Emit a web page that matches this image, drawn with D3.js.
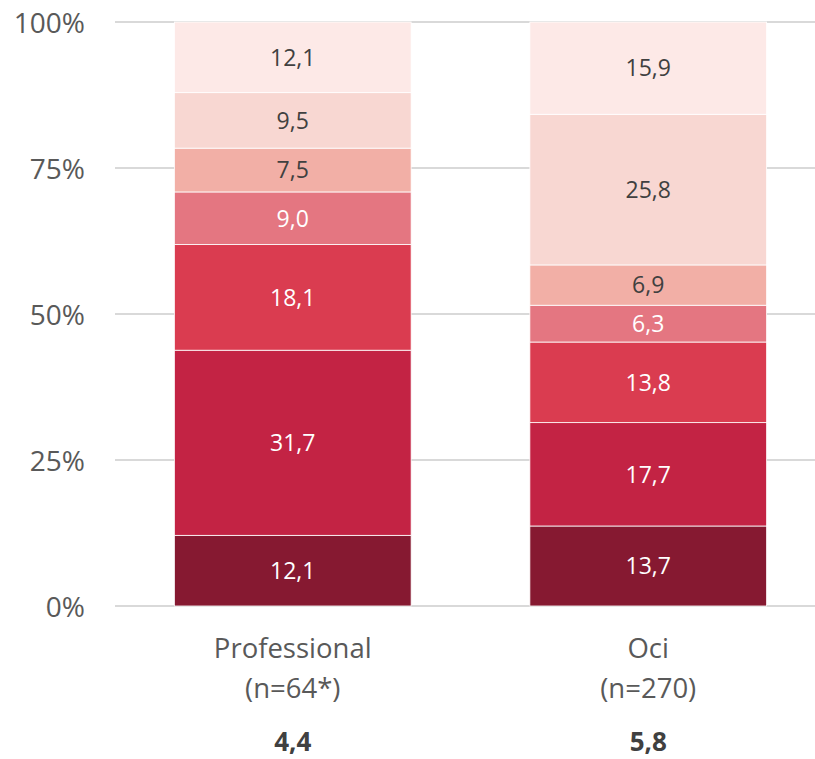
<!DOCTYPE html>
<html><head><meta charset="utf-8">
<script src="https://cdn.jsdelivr.net/npm/d3@7"></script>
<style>body{margin:0;background:#fff}svg{display:block}text{font-family:"Open Sans",sans-serif}</style>
</head><body>
<svg id="c" width="815" height="759"></svg>
<script>
const categories = ["Professional", "Oci"];
const sampleLabels = ["(n=64*)", "(n=270)"];
const means = ["4,4", "5,8"];
const segments = ["s1","s2","s3","s4","s5","s6","s7"]; // bottom to top
const professional = [12.1, 31.7, 18.1, 9.0, 7.5, 9.5, 12.1];
const oci = [13.7, 17.7, 13.8, 6.3, 6.9, 25.8, 15.9];
const colors = ["#861931","#C32344","#DA3C50","#E47681","#F2AFA6","#F8D7D2","#FDE9E7"];
const labelColors = ["#fff","#fff","#fff","#fff","#404040","#404040","#404040"];
const yTicks = [0, 25, 50, 75, 100];

const svg = d3.select("#c");
const x = d3.scaleBand().domain(categories).range([115, 826]).paddingInner(0.334).paddingOuter(0.167);
const y = d3.scaleLinear().domain([0, 100]).range([606, 22]);

const rows = categories.map((c, i) => {
  const vals = i === 0 ? professional : oci;
  const o = {cat: c};
  segments.forEach((s, j) => o[s] = vals[j]);
  return o;
});
const stack = d3.stack().keys(segments)(rows);

// y axis labels
const yAxis = d3.axisLeft(y).tickValues(yTicks).tickFormat(d => d + "%").tickSize(0).tickPadding(0);
const ga = svg.append("g").attr("transform", "translate(85,0)").call(yAxis);
ga.select(".domain").remove();
ga.attr("font-size", null).attr("font-family", null);
ga.selectAll("text").attr("font-size", 28).attr("fill", "#595959").attr("dy", "0.36em");
// gridlines
svg.append("g").selectAll("line").data(yTicks).join("line")
  .attr("x1", 115).attr("x2", 815).attr("y1", d => y(d)).attr("y2", d => y(d))
  .attr("stroke", "#d9d9d9").attr("stroke-width", 2);

// bars
const layers = svg.append("g").selectAll("g").data(stack).join("g")
  .attr("fill", (d, i) => colors[i]);
layers.selectAll("rect").data(d => d).join("rect")
  .attr("x", d => x(d.data.cat)).attr("width", x.bandwidth())
  .attr("y", d => y(Math.min(d[1], 100)))
  .attr("height", d => y(d[0]) - y(Math.min(d[1], 100)))
  .attr("stroke", "#fff").attr("stroke-width", 0.8);

// labels
stack.forEach((layer, i) => {
  svg.append("g").selectAll("text").data(layer).join("text")
    .attr("x", d => x(d.data.cat) + x.bandwidth() / 2)
    .attr("y", d => (y(d[0]) + y(Math.min(d[1], 100))) / 2)
    .attr("dy", "0.36em").attr("text-anchor", "middle")
    .attr("font-size", 23).attr("fill", labelColors[i])
    .text(d => (d[1] - d[0]).toFixed(1).replace(".", ","));
});

// category labels
svg.append("g").selectAll("text").data(categories).join("text")
  .attr("x", d => x(d) + x.bandwidth() / 2).attr("y", 658)
  .attr("text-anchor", "middle").attr("font-size", 27.5).attr("fill", "#595959").text(d => d);
svg.append("g").selectAll("text").data(sampleLabels).join("text")
  .attr("x", (d, i) => x(categories[i]) + x.bandwidth() / 2).attr("y", 698)
  .attr("text-anchor", "middle").attr("font-size", 27.5).attr("fill", "#595959").text(d => d);
svg.append("g").selectAll("text").data(means).join("text")
  .attr("x", (d, i) => x(categories[i]) + x.bandwidth() / 2).attr("y", 751)
  .attr("text-anchor", "middle").attr("font-size", 26).attr("font-weight", "bold").attr("fill", "#404040").text(d => d);
</script>
</body></html>
